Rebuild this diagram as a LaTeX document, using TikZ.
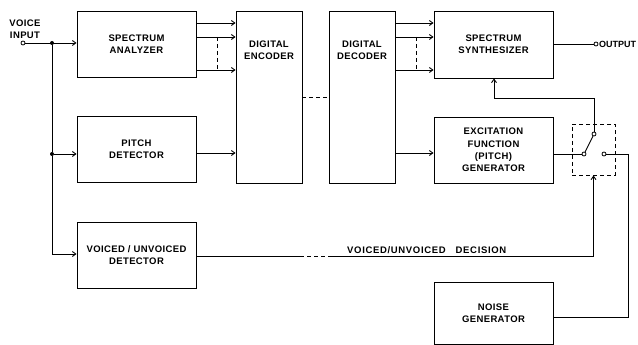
\documentclass[tikz,border=0pt]{standalone}
\usepackage{fontspec}
\setmainfont{Liberation Sans}
\usetikzlibrary{arrows.meta,calc}
\begin{document}
\begin{tikzpicture}[x=1pt,y=-1pt,
  every node/.style={font=\fontsize{9.5}{12.3}\selectfont\bfseries\addfontfeature{LetterSpace=4}},
  blk/.style={draw,line width=0.9pt,inner sep=0pt,align=center},
  ln/.style={line width=0.9pt},
  arr/.style={ln,-{Straight Barb[length=3.5pt,width=5pt]}},
  dsh/.style={line width=0.9pt,dash pattern=on 4pt off 3pt},
  term/.style={circle,draw,line width=0.8pt,inner sep=0pt,minimum size=4pt,fill=white},
  dot/.style={circle,fill,inner sep=0pt,minimum size=4pt},
  txt/.style={align=center,inner sep=0pt}]
\useasboundingbox (0,0) rectangle (638,345);
\clip (0,0) rectangle (638,345);

% blocks
\node[blk,minimum width=119pt,minimum height=66pt] (sa) at (136.5,44) {SPECTRUM\\ANALYZER};
\node[blk,minimum width=119pt,minimum height=66pt] (pd) at (136.5,149) {PITCH\\DETECTOR};
\node[blk,minimum width=119pt,minimum height=66pt] (vud) at (136.5,255) {VOICED / UNVOICED\\DETECTOR};
\node[blk,minimum width=66pt,minimum height=172pt] (enc) at (269,97) {};
\node[txt] (enct) at (269,50) {DIGITAL\\ENCODER};
\node[blk,minimum width=66pt,minimum height=172pt] (dec) at (362,97) {};
\node[txt] (dect) at (362,50) {DIGITAL\\DECODER};
\node[blk,minimum width=119pt,minimum height=67pt] (ss) at (493.5,44.5) {SPECTRUM\\SYNTHESIZER};
\node[blk,minimum width=119pt,minimum height=66pt] (ef) at (493.5,150) {EXCITATION\\FUNCTION\\(PITCH)\\GENERATOR};
\node[blk,minimum width=119pt,minimum height=62pt] (ng) at (493.5,313) {NOISE\\GENERATOR};

% switch
\node[draw,dsh,minimum width=43pt,minimum height=51pt,inner sep=0pt] (sw) at (593.5,149.5) {};
\node[term] (ct) at (594,134) {};
\node[term] (cl) at (584,154) {};
\node[term] (cr) at (604,154) {};
\draw[ln] (ct) -- (cl);

% input
\node[term] (vin) at (23,43) {};
\node[txt] (vinl) at (25,29) {VOICE\\INPUT};
\node[dot] (j1) at (52,43) {};
\node[dot] (j2) at (52,154) {};
\coordinate (c3) at (52,254);
\draw[arr] (vin) -- (vin -| sa.west);
\draw[ln] (j1) -- (j2) -- (c3);
\draw[arr] (c3) -- (c3 -| vud.west);
\draw[arr] (j2) -- (j2 -| pd.west);

% analyzer to encoder
\foreach \y in {23,37,70} \draw[arr] (sa.east |- 0,\y) -- (enc.west |- 0,\y);
\coordinate (d1a) at (217,37); \coordinate (d1b) at (217,70);
\draw[dsh] (d1a) -- (d1b);
\draw[arr] (pd.east |- 0,153) -- (enc.west |- 0,153);

% encoder to decoder
\draw[dsh] (enc.east) -- (dec.west);

% decoder to synthesizer
\foreach \y in {23,37,70} \draw[arr] (dec.east |- 0,\y) -- (ss.west |- 0,\y);
\coordinate (d2a) at (416,37); \coordinate (d2b) at (416,70);
\draw[dsh] (d2a) -- (d2b);
\draw[arr] (dec.east |- 0,153) -- (ef.west |- 0,153);

% output
\node[term] (out) at (596,44) {};
\node[anchor=west,inner sep=0pt,font=\fontsize{9}{11}\selectfont\bfseries] (outl) at (599,44) {OUTPUT};
\draw[ln] (ss.east |- out) -- (out);

% feedback from switch to synthesizer
\coordinate (fb1) at (594,98);
\coordinate (fb2) at (494,98);
\draw[arr] (ct) -- (fb1) -- (fb2) -- (fb2 |- ss.south);

% excitation to switch
\draw[ln] (ef.east |- cl) -- (cl);

% noise to switch
\coordinate (n1) at (628,154);
\coordinate (n2) at (628,317);
\draw[ln] (cr) -- (n1) -- (n2) -- (ng.east |- n2);

% voiced/unvoiced decision
\coordinate (v1) at (300,256);
\coordinate (v2) at (330,256);
\coordinate (v3) at (sw.south |- v2);
\draw[ln] (vud.east |- v1) -- (v1);
\draw[dsh] (v1) -- (v2);
\draw[arr] (v2) -- (v3) -- (sw.south);
\node[anchor=base west,inner sep=0pt,font=\fontsize{9.5}{12}\selectfont\bfseries\addfontfeature{LetterSpace=7}] (vul) at (347,253) {VOICED/UNVOICED\hspace{10pt}DECISION};
\end{tikzpicture}
\end{document}
